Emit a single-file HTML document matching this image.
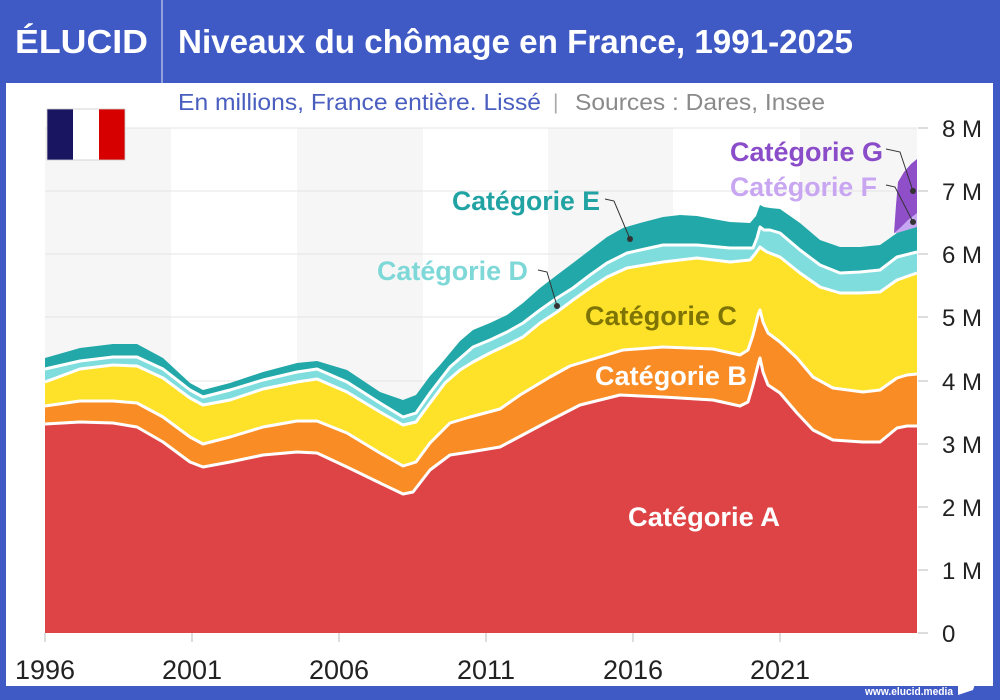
<!DOCTYPE html>
<html><head><meta charset="utf-8"><style>
html,body{margin:0;padding:0;background:#405AC5;}
svg{display:block;}
text{font-family:"Liberation Sans",sans-serif;}
</style></head><body>
<svg width="1000" height="700" viewBox="0 0 1000 700" xmlns="http://www.w3.org/2000/svg">
<rect x="0" y="0" width="1000" height="700" fill="#405AC5"/>
<rect x="6" y="83" width="987" height="603" fill="#ffffff"/>
<line x1="162" y1="0" x2="162" y2="83" stroke="#c8d0f0" stroke-width="1.2"/>
<text x="15" y="53" font-size="33" font-weight="bold" fill="#ffffff" textLength="133" lengthAdjust="spacingAndGlyphs">ÉLUCID</text>
<text x="178" y="53" font-size="33" font-weight="bold" fill="#ffffff" textLength="675" lengthAdjust="spacingAndGlyphs">Niveaux du chômage en France, 1991-2025</text>
<text x="178" y="110" font-size="23" fill="#4A5EC0" textLength="363" lengthAdjust="spacingAndGlyphs">En millions, France entière. Lissé</text>
<text x="553" y="109" font-size="21" fill="#aaaaaa">|</text>
<text x="575" y="110" font-size="23" fill="#8a8a8a" textLength="250" lengthAdjust="spacingAndGlyphs">Sources : Dares, Insee</text>

<!-- background bands -->
<rect x="45" y="128" width="126" height="505" fill="#f6f6f6"/>
<rect x="297" y="128" width="126" height="505" fill="#f6f6f6"/>
<rect x="548" y="128" width="125" height="505" fill="#f6f6f6"/>
<rect x="800" y="128" width="117" height="505" fill="#f6f6f6"/>
<!-- gridlines -->
<g stroke="#e4e4e4" stroke-width="1">
<line x1="45" y1="128" x2="917" y2="128"/>
<line x1="45" y1="191" x2="917" y2="191"/>
<line x1="45" y1="254" x2="917" y2="254"/>
<line x1="45" y1="317" x2="917" y2="317"/>
<line x1="45" y1="381" x2="917" y2="381"/>
<line x1="45" y1="444" x2="917" y2="444"/>
<line x1="45" y1="507" x2="917" y2="507"/>
<line x1="45" y1="570" x2="917" y2="570"/>
</g>
<g stroke="#bbbbbb" stroke-width="1">
<line x1="918" y1="128" x2="928" y2="128"/>
<line x1="918" y1="191" x2="928" y2="191"/>
<line x1="918" y1="254" x2="928" y2="254"/>
<line x1="918" y1="317" x2="928" y2="317"/>
<line x1="918" y1="381" x2="928" y2="381"/>
<line x1="918" y1="444" x2="928" y2="444"/>
<line x1="918" y1="507" x2="928" y2="507"/>
<line x1="918" y1="570" x2="928" y2="570"/>
<line x1="918" y1="633" x2="928" y2="633"/>
<line x1="45" y1="633" x2="45" y2="642"/>
<line x1="192" y1="633" x2="192" y2="642"/>
<line x1="339" y1="633" x2="339" y2="642"/>
<line x1="486" y1="633" x2="486" y2="642"/>
<line x1="633" y1="633" x2="633" y2="642"/>
<line x1="780" y1="633" x2="780" y2="642"/>
</g>

<!-- flag -->
<rect x="47" y="109" width="26" height="51" fill="#1A1560"/>
<rect x="73" y="109" width="26" height="51" fill="#ffffff"/>
<rect x="99" y="109" width="26" height="51" fill="#D70000"/>
<rect x="47" y="109" width="78" height="51" fill="none" stroke="#cccccc" stroke-width="0.8"/>

<!-- G and F -->
<polygon fill="#8E4FC9" points="894,233 896,205 898,182 904,172 911,164 917,159 917,227 897,233"/>
<polygon fill="#C8A7F2" points="894,233 900,228 908,220 917,213 917,227 897,233"/>

<!-- E -->
<polygon fill="#22A8A8" points="45,633 45,358 80,348 113,344 137,344 163,358 190,383 203,390 230,383 263,372 297,363 317,361 347,370 380,392 403,400 416,395 430,376 440,365 460,341 473,330 490,323 507,315 523,303 540,288 557,275 573,263 590,250 607,237 623,228 640,223 663,217 680,215 697,216 713,219 730,222 750,223 756,216 760,205 764,207 770,208 780,209 800,223 820,240 840,247 860,247 880,245 897,233 917,227 917,633"/>
<!-- D -->
<polygon fill="#80DDDD" points="45,633 45,369 80,361 113,357 137,357 163,369 190,390 203,397 230,390 263,380 297,372 317,369 347,382 380,403 403,417 416,413 430,393 450,367 473,347 490,340 507,332 523,323 540,310 557,298 573,288 590,275 607,263 627,253 663,245 697,245 730,248 753,248 757,238 760,227 764,230 770,230 780,233 800,250 820,265 840,273 860,272 880,270 897,257 917,252 917,633"/>
<!-- C -->
<polygon fill="#FEE22A" points="45,633 45,382 80,369 113,365 137,366 163,378 190,398 203,405 230,400 263,389 297,382 317,379 347,392 380,412 403,425 416,422 430,403 445,383 460,370 473,362 490,353 507,345 523,337 540,323 557,312 573,300 590,288 607,277 627,268 663,262 697,258 730,262 750,260 755,254 760,247 764,250 767,252 780,257 800,273 820,287 840,293 860,293 880,292 897,280 917,273 917,633"/>
<!-- B -->
<polygon fill="#FA8C26" points="45,633 45,406 80,401 113,401 137,403 163,417 190,437 203,444 230,437 263,427 297,421 317,421 347,433 380,453 403,466 416,462 430,443 450,423 470,417 500,409 520,395 550,377 570,366 590,360 623,350 663,347 713,349 740,355 748,350 753,335 758,315 760,310 763,322 768,333 780,342 797,358 813,377 833,388 863,392 880,390 897,378 907,375 917,374 917,633"/>
<!-- A -->
<polygon fill="#DE4446" points="45,633 45,424 80,422 113,423 137,427 163,442 190,462 203,467 230,462 263,455 297,452 317,453 347,467 380,483 403,494 413,492 430,470 450,455 470,452 500,447 547,422 580,405 620,395 663,397 713,400 740,406 748,402 753,385 758,365 760,358 763,372 768,385 780,393 797,413 813,430 833,440 863,442 880,442 897,428 907,426 917,426 917,633"/>

<!-- white separators -->
<g fill="none" stroke="#ffffff" stroke-width="3" stroke-linejoin="round">
<polyline points="45,369 80,361 113,357 137,357 163,369 190,390 203,397 230,390 263,380 297,372 317,369 347,382 380,403 403,417 416,413 430,393 450,367 473,347 490,340 507,332 523,323 540,310 557,298 573,288 590,275 607,263 627,253 663,245 697,245 730,248 753,248 757,238 760,227 764,230 770,230 780,233 800,250 820,265 840,273 860,272 880,270 897,257 917,252"/>
<polyline points="45,382 80,369 113,365 137,366 163,378 190,398 203,405 230,400 263,389 297,382 317,379 347,392 380,412 403,425 416,422 430,403 445,383 460,370 473,362 490,353 507,345 523,337 540,323 557,312 573,300 590,288 607,277 627,268 663,262 697,258 730,262 750,260 755,254 760,247 764,250 767,252 780,257 800,273 820,287 840,293 860,293 880,292 897,280 917,273"/>
<polyline points="45,406 80,401 113,401 137,403 163,417 190,437 203,444 230,437 263,427 297,421 317,421 347,433 380,453 403,466 416,462 430,443 450,423 470,417 500,409 520,395 550,377 570,366 590,360 623,350 663,347 713,349 740,355 748,350 753,335 758,315 760,310 763,322 768,333 780,342 797,358 813,377 833,388 863,392 880,390 897,378 907,375 917,374"/>
<polyline points="45,424 80,422 113,423 137,427 163,442 190,462 203,467 230,462 263,455 297,452 317,453 347,467 380,483 403,494 413,492 430,470 450,455 470,452 500,447 547,422 580,405 620,395 663,397 713,400 740,406 748,402 753,385 758,365 760,358 763,372 768,385 780,393 797,413 813,430 833,440 863,442 880,442 897,428 907,426 917,426"/>
</g>

<!-- leaders -->
<g fill="none" stroke="#333333" stroke-width="1">
<polyline points="605,199 614,201 630,239"/>
<polyline points="538,270 547,272 557,306"/>
<polyline points="886,149 900,152 913,191"/>
<polyline points="886,185 895,187 913,222"/>
</g>
<g fill="#333333">
<circle cx="630" cy="239" r="3"/>
<circle cx="557" cy="306" r="3"/>
<circle cx="913" cy="191" r="3"/>
<circle cx="913" cy="222" r="3"/>
</g>

<!-- category labels -->
<g font-size="27" font-weight="bold">
<text x="730" y="161" fill="#8A4CC8" textLength="153" lengthAdjust="spacingAndGlyphs">Catégorie G</text>
<text x="730" y="196" fill="#C9A6F1" textLength="147" lengthAdjust="spacingAndGlyphs">Catégorie F</text>
<text x="452" y="210" fill="#22A3A3" textLength="148" lengthAdjust="spacingAndGlyphs">Catégorie E</text>
<text x="377" y="280" fill="#7ED8D8" textLength="151" lengthAdjust="spacingAndGlyphs">Catégorie D</text>
<text x="585" y="325" fill="#7E7406" textLength="152" lengthAdjust="spacingAndGlyphs">Catégorie C</text>
<text x="595" y="385" fill="#ffffff" textLength="152" lengthAdjust="spacingAndGlyphs">Catégorie B</text>
<text x="628" y="526" fill="#ffffff" textLength="152" lengthAdjust="spacingAndGlyphs">Catégorie A</text>
</g>

<!-- y axis labels -->
<g font-size="24" fill="#222222">
<text x="942" y="137">8 M</text>
<text x="942" y="200">7 M</text>
<text x="942" y="263">6 M</text>
<text x="942" y="326">5 M</text>
<text x="942" y="390">4 M</text>
<text x="942" y="453">3 M</text>
<text x="942" y="516">2 M</text>
<text x="942" y="579">1 M</text>
<text x="942" y="642">0</text>
</g>
<!-- x axis labels -->
<g font-size="27" fill="#222222" text-anchor="middle">
<text x="45" y="679">1996</text>
<text x="192" y="679">2001</text>
<text x="339" y="679">2006</text>
<text x="486" y="679">2011</text>
<text x="633" y="679">2016</text>
<text x="780" y="679">2021</text>
</g>

<!-- footer -->
<text x="865" y="695" font-size="11" font-weight="bold" fill="#ffffff" textLength="88" lengthAdjust="spacingAndGlyphs">www.elucid.media</text>
<polygon fill="#ffffff" points="958,686 977,678 973,690 958,695"/>
</svg>
</body></html>
